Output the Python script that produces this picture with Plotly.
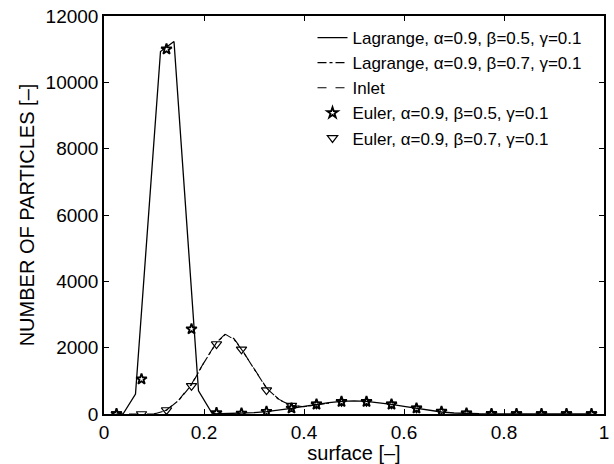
import plotly.graph_objects as go

# Lagrange beta=0.5 (solid line)
lag1_x = [0.025, 0.038, 0.063, 0.113, 0.140, 0.189, 0.217, 0.25, 0.275, 0.30, 0.325, 0.35, 0.375, 0.40, 0.425,
          0.45, 0.475, 0.50, 0.525, 0.55, 0.575, 0.60, 0.625, 0.65, 0.675, 0.70, 0.725, 0.75, 0.80, 0.85, 0.90, 0.95, 0.975]
lag1_y = [0, 0, 600, 10930, 11230, 700, 0, 10, 20, 40, 70, 110, 170, 230, 290,
          340, 380, 395, 380, 340, 290, 230, 170, 110, 60, 30, 15, 8, 3, 1, 0, 0, 0]

# Lagrange beta=0.7 (dash-dot)
lag2_x = [0.10, 0.125, 0.15, 0.175, 0.20, 0.225, 0.243, 0.26, 0.275, 0.30, 0.325, 0.35, 0.375, 0.40, 0.425, 0.45]
lag2_y = [0, 110, 420, 880, 1550, 2150, 2400, 2250, 1950, 1350, 780, 430, 260, 220, 280, 330]

# Inlet (dashed)
inlet_x = [0.05, 0.10, 0.125, 0.15, 0.175, 0.20, 0.225, 0.243, 0.26, 0.275, 0.30, 0.325, 0.35, 0.375, 0.40, 0.425, 0.45]
inlet_y = [0, 0, 120, 430, 900, 1560, 2160, 2420, 2270, 1960, 1370, 790, 440, 260, 220, 280, 330]

# Euler markers (bin centers)
euler_x = [0.025, 0.075, 0.125, 0.175, 0.225, 0.275, 0.325, 0.375, 0.425, 0.475, 0.525, 0.575, 0.625,
           0.675, 0.725, 0.775, 0.825, 0.875, 0.925, 0.975]
euler1_y = [0, 1050, 11000, 2560, 30, 20, 70, 170, 290, 370, 370, 290, 170, 70, 20, 5, 0, 0, 0, 0]
euler2_y = [0, 0, 120, 850, 2110, 1950, 720, 250, 290, 370, 370, 290, 170, 70, 20, 5, 0, 0, 0, 0]

labels = ["Lagrange, α=0.9, β=0.5, γ=0.1",
          "Lagrange, α=0.9, β=0.7, γ=0.1",
          "Inlet",
          "Euler, α=0.9, β=0.5, γ=0.1",
          "Euler, α=0.9, β=0.7, γ=0.1"]

fig = go.Figure()
fig.add_trace(go.Scatter(x=lag1_x, y=lag1_y, mode="lines", name=labels[0],
                         line=dict(color="black", width=1.3)))
fig.add_trace(go.Scatter(x=lag2_x, y=lag2_y, mode="lines", name=labels[1],
                         line=dict(color="black", width=1.1, dash="dashdot")))
fig.add_trace(go.Scatter(x=inlet_x, y=inlet_y, mode="lines", name=labels[2],
                         line=dict(color="black", width=1.1, dash="dash")))
fig.add_trace(go.Scatter(x=euler_x, y=euler1_y, mode="markers", name=labels[3],
                         marker=dict(symbol="star-open", size=8, color="black", line=dict(width=1.8, color="black"))))
fig.add_trace(go.Scatter(x=euler_x, y=euler2_y, mode="markers", name=labels[4],
                         marker=dict(symbol="triangle-down-open", size=9, color="black", line=dict(width=1.2, color="black"))))

font = "Liberation Sans, Arial, Helvetica, sans-serif"
axis_common = dict(showline=True, linecolor="black", linewidth=1.5, mirror="ticks",
                   ticks="inside", ticklen=5, tickcolor="black", showgrid=False, zeroline=False,
                   tickfont=dict(family=font, size=19, color="black"),
                   title_font=dict(family=font, size=20, color="black"))

fig.update_layout(
    width=614, height=464,
    margin=dict(l=104, r=5, t=16, b=50),
    paper_bgcolor="white", plot_bgcolor="white",
    showlegend=True,
    legend=dict(x=0.417, y=0.99, xanchor="left", yanchor="top", bgcolor="rgba(0,0,0,0)",
                font=dict(family=font, size=17, color="black"), tracegroupgap=0, itemwidth=30),
    xaxis=dict(range=[0, 1], tickvals=[0, 0.2, 0.4, 0.6, 0.8, 1], ticktext=["0", "0.2", "0.4", "0.6", "0.8", "1"],
               title=dict(text="surface [–]", standoff=0), **axis_common),
    yaxis=dict(range=[0, 12000], tickvals=[0, 2000, 4000, 6000, 8000, 10000, 12000],
               ticktext=["0", "2000", "4000", "6000", "8000", "10000", "12000"],
               title=dict(text="NUMBER OF PARTICLES [–]", standoff=6), **axis_common),
)

fig.write_html("out.html")
